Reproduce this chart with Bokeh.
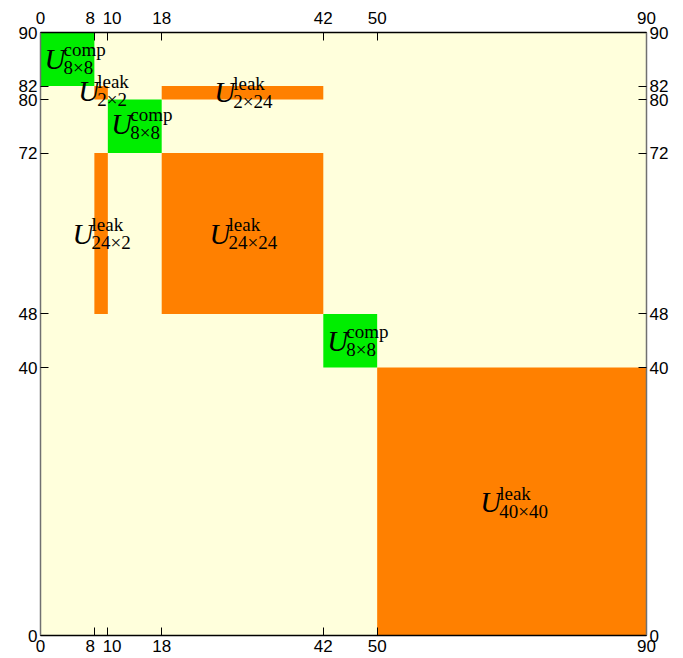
from bokeh.plotting import figure
from bokeh.models import LinearAxis, FixedTicker, Range1d, ColumnDataSource
from bokeh.core.properties import value
from bokeh.embed import file_html
from bokeh.resources import INLINE

# block data
blk_left   = [0, 8, 10, 18, 8, 18, 42, 50]
blk_right  = [8, 10, 18, 42, 10, 42, 50, 90]
blk_bottom = [82, 80, 72, 80, 48, 48, 40, 0]
blk_top    = [90, 82, 80, 82, 72, 72, 48, 40]
blk_kind   = ["comp", "leak", "comp", "leak", "leak", "leak", "comp", "leak"]
blk_size   = ["8×8", "2×2", "8×8", "2×24", "24×2", "24×24", "8×8", "40×40"]

# label anchors (left/baseline of "U")
lab_x = [0.6, 5.6, 10.5, 25.8, 4.75, 25.1, 42.6, 65.3]
lab_y = [84.6, 79.85, 74.9, 79.6, 58.5, 58.5, 42.5, 18.4]

x_ticks = [0, 8, 10, 18, 42, 50, 90]
y_ticks = [0, 40, 48, 72, 80, 82, 90]
x_tick_labels = {8: "8\u2002", 10: "\u200210"}

colors = {"comp": "#00EE00", "leak": "#FF8000"}

p = figure(width=680, height=658, output_backend="svg", toolbar_location=None,
           x_range=Range1d(0, 90), y_range=Range1d(0, 90),
           min_border_left=40, min_border_right=34, min_border_top=32, min_border_bottom=23,
           x_axis_location=None, y_axis_location=None)
p.background_fill_color = "#FFFFDC"
p.border_fill_color = "white"
p.outline_line_color = None
p.xgrid.visible = False
p.ygrid.visible = False

src = ColumnDataSource(dict(left=blk_left, right=blk_right, bottom=blk_bottom, top=blk_top,
                            color=[colors[k] for k in blk_kind]))
p.quad(left="left", right="right", bottom="bottom", top="top", fill_color="color",
       line_color=None, source=src)

lsrc = ColumnDataSource(dict(x=lab_x, y=lab_y, U=["U"] * len(lab_x), sup=blk_kind, sub=blk_size))
p.text(x="x", y="y", text="U", source=lsrc, y_offset=-10, text_font=value("Liberation Serif"),
       text_font_style="italic", text_font_size="29px", text_baseline="alphabetic",
       text_align="left", text_color="black")
p.text(x="x", y="y", text="sup", source=lsrc, x_offset=19, y_offset=-19,
       text_font=value("Liberation Serif"), text_font_size="19px",
       text_baseline="alphabetic", text_align="left", text_color="black")
p.text(x="x", y="y", text="sub", source=lsrc, x_offset=19, y_offset=-1,
       text_font=value("Liberation Serif"), text_font_size="19px",
       text_baseline="alphabetic", text_align="left", text_color="black")


def style(ax, ticks, line_color, standoff, overrides=None):
    ax.ticker = FixedTicker(ticks=ticks)
    ax.major_tick_in = 8
    ax.major_tick_out = 0
    ax.minor_tick_line_color = None
    ax.axis_line_color = line_color
    ax.axis_line_width = 1.5
    ax.major_tick_line_color = "black"
    ax.major_label_text_font = "Liberation Sans"
    ax.major_label_text_font_size = "17px"
    ax.major_label_text_color = "black"
    ax.major_label_standoff = standoff
    if overrides:
        ax.major_label_overrides = overrides


for loc, so in [("below", 1), ("above", 5)]:
    ax = LinearAxis()
    style(ax, x_ticks, "black", so, x_tick_labels)
    p.add_layout(ax, loc)
for loc in ["left", "right"]:
    ax = LinearAxis()
    style(ax, y_ticks, "#707070", 3)
    p.add_layout(ax, loc)

open("out.html", "w").write(file_html(p, INLINE))
